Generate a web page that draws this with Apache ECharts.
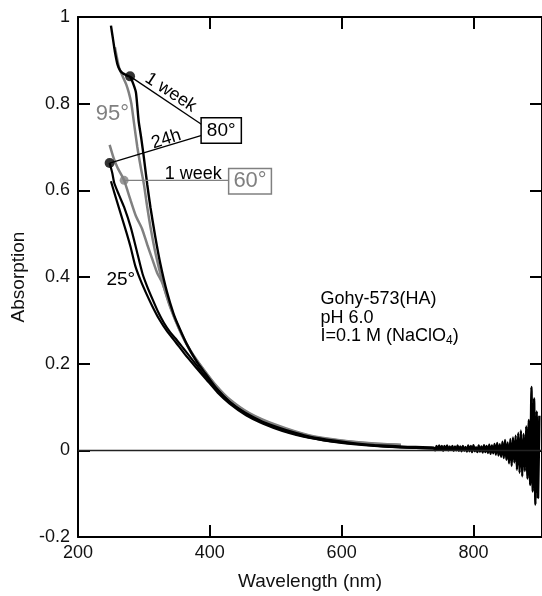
<!DOCTYPE html>
<html><head><meta charset="utf-8">
<script src="https://cdn.jsdelivr.net/npm/echarts@6/dist/echarts.min.js"></script>
<style>html,body{margin:0;padding:0;background:#fff}#c{width:542px;height:596px}</style>
</head><body><div id="c"></div>
<script>
// ---- data ----
const xTicks = [200, 400, 600, 800];
const yTicks = [-0.2, 0, 0.2, 0.4, 0.6, 0.8, 1];

// 80 deg, 1 week (black)
const wl80w = [250,253,256,260,264,268,273,279,284,288,292,296,300,305,310,317,325,335,345,353,365,380,393,410,430,453,480,503,530,553,590,620,650,700,740];
const ab80w = [0.98,0.95,0.92,0.89,0.876,0.870,0.866,0.862,0.845,0.825,0.76,0.72,0.675,0.614,0.56,0.495,0.43,0.365,0.315,0.285,0.245,0.205,0.178,0.143,0.112,0.087,0.066,0.053,0.040,0.031,0.022,0.016,0.012,0.008,0.006];
// noisy tail of the black traces (nm, absorption)
const wlTail = [742,744,746,748,750,752,754,756,758,760,762,764,766,768,770,772,774,776,778,780,782,784,786,788,790,792,794,796,798,800,802,804,806,808,810,812,814,816,818,820,822,824,826,828,830,832,834,836,838,840,842,844,846,848,850,852,854,856,858,860,862,864,866,868,870,872,874,876,878,880,882,884,886,888,890,892,894,896,898,900];
const abTail = [0.000,0.010,0.001,0.011,0.002,0.010,-0.001,0.010,0.001,0.011,0.000,0.009,0.001,0.010,-0.001,0.009,0.000,0.011,-0.001,0.009,-0.002,0.010,-0.001,0.008,-0.003,0.011,-0.002,0.010,-0.004,0.012,-0.002,0.007,-0.004,0.011,-0.003,0.009,-0.005,0.012,-0.004,0.010,-0.006,0.013,-0.008,0.011,-0.007,0.015,-0.010,0.017,-0.012,0.014,-0.015,0.020,-0.018,0.024,-0.022,0.018,-0.030,0.026,-0.036,0.030,-0.028,0.034,-0.045,0.040,-0.052,0.046,-0.060,0.038,-0.048,0.055,-0.065,0.070,-0.080,0.146,-0.095,0.120,-0.125,0.090,-0.110,0.080];

// 95 deg (grey)
const wl95 = [256,262,268,273,277,281,285,290,295,300,305,310,318,328,340,355,370,390,410,430,460,500,550,600,650,690];
const ab95 = [0.93,0.885,0.862,0.845,0.826,0.80,0.755,0.70,0.655,0.614,0.562,0.515,0.452,0.39,0.33,0.275,0.232,0.188,0.149,0.118,0.086,0.059,0.035,0.023,0.016,0.013];

// 80 deg, 24 h (black)
const wl80h = [248,252,255,262,270,280,290,298,305,313,322,330,340,348,360,373,390,410,430,455,480,510,550,600,650,700,750,800];
const ab80h = [0.663,0.64,0.617,0.59,0.561,0.515,0.455,0.407,0.378,0.349,0.318,0.295,0.272,0.258,0.235,0.21,0.177,0.142,0.112,0.084,0.064,0.047,0.030,0.018,0.011,0.006,0.004,0.002];

// 60 deg, 1 week (grey)
const wl60w = [248,254,260,265,270,275,280,288,297,305,313,320,328,338,348,358,372,390,410,430,460,500,550,600,650,690];
const ab60w = [0.705,0.675,0.652,0.638,0.623,0.60,0.576,0.54,0.512,0.475,0.44,0.41,0.386,0.341,0.30,0.265,0.225,0.187,0.147,0.116,0.084,0.057,0.034,0.022,0.015,0.012];

// 25 deg (black)
const wl25 = [250,256,262,268,274,280,287,295,303,312,323,335,348,362,378,395,412,430,455,480,510,550,600,650,700,750,800];
const ab25 = [0.621,0.59,0.56,0.53,0.50,0.468,0.425,0.392,0.364,0.335,0.303,0.275,0.25,0.222,0.193,0.163,0.133,0.108,0.081,0.062,0.045,0.029,0.017,0.010,0.006,0.004,0.002];

// marker dots and leader lines
const dotsBlack = [[279, 0.863], [248, 0.663]];
const dotsGrey = [[270, 0.623]];
const lead80w = [[279, 0.863], [387.7, 0.752]];
const lead80h = [[248, 0.663], [387.7, 0.727]];
const lead60w = [[270, 0.623], [430.4, 0.623]];

// annotation texts
const noteText = ['95°', '25°', '1 week', '24h', '1 week', '80°', '60°'];
const noteAt = [[252.3, 0.777], [265, 0.394], [340.6, 0.826], [333.8, 0.718], [375, 0.638], [417.3, 0.738], [461, 0.621]];
const infoText = ['Gohy-573(HA)', 'pH 6.0', 'I=0.1 M (NaClO{sub|4})'];
const infoAt = [[568, 0.349], [568, 0.305], [568, 0.264]];

// ---- chart ----
const FONT = '"Liberation Sans", Arial, sans-serif';
const BLACK = '#000';
const GREY = '#808080';
const zip = (a, b) => a.map((v, i) => [v, b[i]]);

const noteStyle = [
  {fontSize: 22, color: GREY},
  {fontSize: 19, color: BLACK},
  {fontSize: 18, color: BLACK, rotate: -33},
  {fontSize: 18, color: BLACK, rotate: 17.6},
  {fontSize: 18, color: BLACK},
  {fontSize: 19, color: BLACK, borderColor: BLACK, borderWidth: 1.5, backgroundColor: '#fff', padding: [3, 5, 2, 5]},
  {fontSize: 22, color: GREY, borderColor: GREY, borderWidth: 1.5, backgroundColor: '#fff', padding: [1, 4, 1, 4]}
];

function curve(data, color, width, z) {
  return {type: 'line', data, symbol: 'none', smooth: 0.2, z,
    lineStyle: {color, width}, silent: true};
}
function lead(data, color) {
  return {type: 'line', data, symbol: 'none', z: 6, lineStyle: {color, width: 1.3}, silent: true};
}

const axisCommon = {
  type: 'value', splitLine: {show: false},
  axisLine: {show: true, onZero: false, lineStyle: {color: '#000', width: 2}},
  axisTick: {show: true, inside: true, length: 12, lineStyle: {color: '#000', width: 2}}
};

const option = {
  animation: false,
  backgroundColor: '#fff',
  grid: {left: 78, top: 17, right: -4, bottom: 50},
  xAxis: [
    Object.assign({}, axisCommon, {
      min: xTicks[0], max: 904, interval: 200, position: 'bottom',
      axisLabel: {fontSize: 18, color: '#111', fontFamily: FONT, margin: 7, showMaxLabel: false},
      name: 'Wavelength (nm)', nameLocation: 'middle', nameGap: 35,
      nameTextStyle: {fontSize: 19, color: '#111', fontFamily: FONT}
    }),
    Object.assign({}, axisCommon, {
      min: xTicks[0], max: 904, interval: 200, position: 'top', axisLabel: {show: false}
    })
  ],
  yAxis: [
    Object.assign({}, axisCommon, {
      min: yTicks[0], max: yTicks[yTicks.length - 1], interval: 0.2, position: 'left',
      axisLabel: {fontSize: 18, color: '#111', fontFamily: FONT, margin: 8},
      name: 'Absorption', nameLocation: 'middle', nameGap: 44,
      nameTextStyle: {fontSize: 19, color: '#111', fontFamily: FONT}
    }),
    Object.assign({}, axisCommon, {
      min: yTicks[0], max: yTicks[yTicks.length - 1], interval: 0.2, position: 'right', axisLabel: {show: false}
    })
  ],
  series: [
    Object.assign(curve(zip(wl95, ab95), GREY, 2.5, 2), {
      markLine: {silent: true, symbol: 'none', label: {show: false},
        lineStyle: {color: '#222', width: 1.4, type: 'solid'}, data: [{yAxis: 0}]}
    }),
    curve(zip(wl60w, ab60w), GREY, 2.5, 2),
    curve(zip(wl25, ab25), BLACK, 2.2, 3),
    curve(zip(wl80h, ab80h), BLACK, 2.2, 3),
    curve(zip(wl80w, ab80w).concat(zip(wlTail, abTail)), BLACK, 2.4, 4),
    lead(lead80w, BLACK),
    lead(lead80h, BLACK),
    lead(lead60w, GREY),
    {type: 'scatter', data: dotsBlack, symbolSize: 10, itemStyle: {color: BLACK}, z: 7, silent: true},
    {type: 'scatter', data: dotsGrey, symbolSize: 9, itemStyle: {color: GREY}, z: 7, silent: true},
    {type: 'scatter', symbolSize: 0, z: 10, silent: true,
      data: noteText.map((t, i) => ({
        value: noteAt[i],
        label: Object.assign({show: true, position: 'inside', formatter: t, fontFamily: FONT,
          textBorderWidth: 0, opacity: 1}, noteStyle[i])
      }))
    },
    {type: 'scatter', symbolSize: 0, z: 10, silent: true,
      data: infoText.map((t, i) => ({
        value: infoAt[i],
        label: {show: true, position: 'inside', align: 'left', formatter: t, fontFamily: FONT,
          fontSize: 18, color: '#000', textBorderWidth: 0, opacity: 1,
          rich: {sub: {fontSize: 12, fontFamily: FONT, color: '#000', textBorderWidth: 0, verticalAlign: 'bottom', padding: [10, 0, 0, 0]}}}
      }))
    }
  ]
};

const chart = echarts.init(document.getElementById('c'), null, {renderer: 'canvas'});
chart.setOption(option);
</script></body></html>
